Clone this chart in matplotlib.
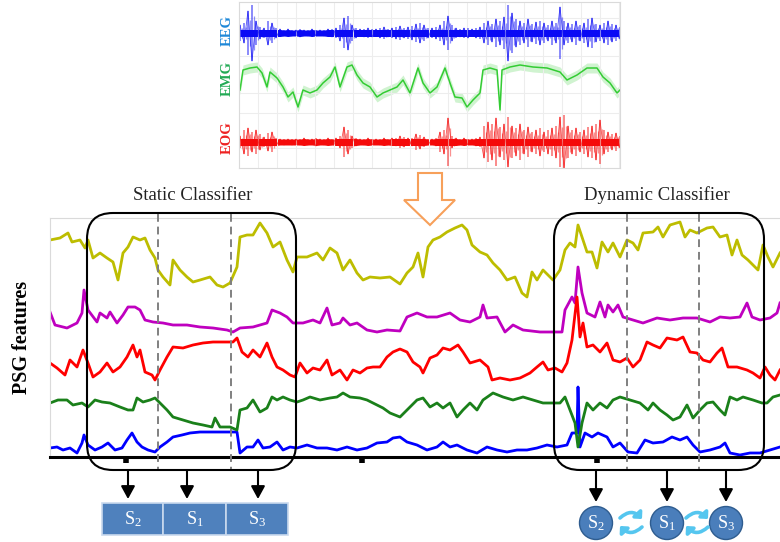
import numpy as np
import matplotlib
matplotlib.use('Agg')
import matplotlib.pyplot as plt
from matplotlib.patches import FancyBboxPatch, Rectangle, Circle, Polygon, FancyArrowPatch

plt.rcParams['font.family'] = ['Liberation Serif', 'DejaVu Serif']
plt.rcParams['mathtext.default'] = 'regular'

# ---------------- data: PSG feature curves (time, value) ----------------
yel_t = [50,60,68,72,80,85,88,93,100,107,113,118,123,128,133,140,145,150,155,158,163,170,173,180,187,193,200,210,217,223,230,237,240,247,253,260,267,273,280,287,293,297,307,317,323,330,337,343,350,357,363,370,380,390,400,407,413,418,423,428,433,440,447,455,462,467,472,480,487,493,500,507,515,522,527,532,537,543,550,553,560,565,570,575,578,582,587,592,597,602,608,613,620,627,633,638,643,653,658,663,670,680,685,690,697,707,713,720,727,732,737,742,748,753,758,763,768,773,780]
yel_v = [217,219,224,215,217,209,217,199,204,199,195,177,204,210,220,217,219,207,199,187,180,172,197,187,180,175,177,180,172,170,174,190,220,222,222,234,224,210,215,197,185,200,200,204,197,209,204,187,197,184,177,180,179,180,173,184,190,204,180,210,217,220,225,229,232,227,212,205,202,194,187,177,180,164,160,185,177,187,180,177,187,207,214,210,232,220,205,205,189,215,205,214,200,217,214,207,224,225,230,220,232,235,220,227,224,229,230,220,222,202,217,202,197,192,187,212,200,190,204]

mag_t = [50,55,67,77,82,84,88,97,100,107,110,117,123,128,135,140,145,153,163,173,187,200,213,227,233,240,253,267,272,280,287,293,303,313,320,327,332,340,343,350,357,367,377,387,400,407,417,427,437,450,460,470,480,483,487,497,505,513,523,540,553,562,565,572,575,578,582,587,595,600,605,608,613,618,623,633,643,657,670,683,697,710,720,730,740,747,752,760,770,777,780]
mag_v = [145,132,129,134,144,167,147,135,144,139,145,134,142,150,150,147,137,135,134,132,132,130,129,127,125,129,130,134,147,144,140,134,134,137,134,149,132,134,139,132,134,127,125,127,126,140,144,140,140,144,137,135,140,152,139,140,125,132,127,125,125,125,147,160,154,190,164,144,140,155,140,152,145,152,140,137,134,139,137,139,139,135,140,139,140,154,140,137,139,144,154]

red_t = [50,57,65,70,77,83,88,93,100,107,113,120,127,133,137,140,145,152,155,160,167,173,183,193,203,213,223,233,237,242,248,253,260,267,272,277,283,290,295,300,307,313,320,327,332,340,347,353,360,367,373,380,387,393,400,407,413,420,423,430,437,443,450,458,463,470,480,488,492,500,510,520,530,537,543,548,555,562,567,572,577,580,583,587,593,600,607,613,620,627,633,640,647,653,660,667,677,683,690,697,703,710,717,722,728,737,747,753,760,765,770,775,780]
red_v = [94,89,82,97,90,107,94,80,85,94,85,90,100,112,100,107,85,82,77,87,100,110,109,112,114,115,115,115,119,105,100,107,100,114,100,90,87,82,80,94,84,89,87,97,82,87,77,87,84,89,90,90,100,105,108,105,95,90,84,99,102,109,107,112,105,94,97,90,77,79,77,79,84,90,95,87,89,85,94,117,160,120,134,110,112,105,114,97,95,99,90,97,115,112,109,119,117,120,105,104,97,95,104,109,90,90,87,84,79,90,82,77,87]

grn_t = [50,58,67,73,82,88,95,102,110,120,128,133,137,143,150,155,160,167,173,183,193,203,212,215,220,230,237,240,247,253,260,267,272,277,283,290,297,303,310,320,330,337,343,350,360,367,373,383,390,400,407,417,423,430,437,443,450,457,463,470,477,483,493,503,513,523,533,543,553,560,565,570,575,578,582,587,593,600,607,613,620,630,640,648,653,660,667,673,680,687,693,700,707,713,720,725,730,737,743,753,762,767,773,780]
grn_v = [54,57,57,52,54,50,57,55,54,50,47,47,59,55,57,59,54,47,40,37,34,32,30,39,30,30,27,47,49,57,45,49,60,57,60,57,55,57,60,57,59,60,64,60,59,57,54,49,44,40,47,57,59,50,54,49,54,40,47,54,47,57,64,60,57,60,57,54,54,54,60,47,34,10,34,54,47,54,49,57,60,57,54,47,54,47,42,37,40,52,39,47,54,55,47,42,60,57,60,57,54,54,60,62]

blu_t = [50,57,63,70,77,82,84,88,95,102,108,115,122,127,132,137,142,148,155,160,167,173,182,190,200,210,220,230,237,240,247,253,258,263,270,277,283,290,297,307,317,327,337,347,357,367,377,387,393,400,407,417,427,437,443,450,457,467,477,487,497,507,517,527,537,547,557,567,572,577,578,580,585,592,598,607,613,620,628,637,645,653,663,672,680,687,693,700,710,720,725,730,740,750,760,770,780]
blu_v = [9,10,7,9,4,14,22,12,7,10,14,7,9,17,24,15,10,7,5,10,15,20,22,24,25,25,25,25,25,4,10,10,17,9,10,15,7,10,9,12,9,9,7,10,7,9,14,15,19,20,15,12,7,10,15,10,12,7,4,10,7,5,7,7,9,12,10,12,24,24,70,10,24,20,24,20,10,14,5,4,17,14,15,20,17,20,12,5,7,10,14,4,2,4,4,7,10]

epoch_marks = [126, 362, 597]

# ---------------- data: raw PSG signals (top panel) ----------------
sig_t0, sig_dt = 240, 4
eeg = [8,-10,22,-28,12,-6,5,-12,10,-5,
       4,-3,4,-3,3,-4,3,-3,4,-3,
       3,-3,4,-4,5,-8,15,-17,8,-5,
       4,-4,5,-4,4,-5,6,-4,5,-6,
       7,-5,6,-7,9,-10,8,-5,5,-6,
       8,-12,17,-8,5,-4,5,-5,4,-5,
       6,-10,12,-9,14,-12,16,-28,20,-14,
       12,-10,14,-9,11,-12,10,-8,12,-10,
       26,-12,10,-9,12,-8,10,-14,15,-9,
       8,-10,12,-9,8,-6]
eog = [6,-12,14,-10,12,-8,5,-9,10,-4,
       3,-3,3,-3,3,-3,4,-3,3,-4,
       3,-3,4,-3,4,-6,15,-12,6,-4,
       3,-3,4,-3,3,-3,4,-3,4,-4,
       6,-5,4,-4,8,-7,5,-3,3,-4,
       10,-12,24,-6,4,-3,4,-3,3,-4,
       5,-16,20,-18,24,-15,18,-25,16,-14,
       18,-12,15,-10,12,-14,10,-12,14,-16,
       25,-27,16,-12,14,-10,12,-15,16,-18,
       22,-12,10,-8,9,-6]
emg_t = [240,243,250,257,262,267,270,277,283,288,293,298,303,310,317,323,330,335,340,347,352,357,363,370,377,383,390,397,403,410,418,423,430,437,445,450,455,462,467,473,480,483,490,497,500,502,510,520,533,547,560,567,577,587,597,603,610,617,620]
emg_v = [78,98,100,101,95,81,96,90,81,71,76,61,78,75,78,85,91,101,81,101,103,93,85,81,71,75,78,81,88,75,100,85,75,81,100,85,71,70,61,68,75,98,100,98,58,98,101,103,101,100,96,88,93,100,100,91,85,75,78]

stage_static = ['S$_2$', 'S$_1$', 'S$_3$']
stage_dynamic = ['S$_2$', 'S$_1$', 'S$_3$']

# ---------------- figure ----------------
W, H = 780, 542
fig = plt.figure(figsize=(W / 100, H / 100), dpi=100)

def frac(x0, y0, x1, y1):
    return [x0 / W, 1 - y1 / H, (x1 - x0) / W, (y1 - y0) / H]

# top raw-signal panel
ta = fig.add_axes(frac(239, 2, 620, 168))
ta.set_xlim(239, 620)
ta.set_ylim(0, 166)
ta.set_xticks(np.arange(258, 620, 19))
ta.set_yticks([20, 55, 75, 112, 150])
ta.grid(True, color='#EDEDED', lw=0.8)
ta.tick_params(length=0, labelbottom=False, labelleft=False)
for s in ta.spines.values():
    s.set_color('#DADADA')
    s.set_linewidth(0.8)
tt = np.arange(len(eeg)) * sig_dt + sig_t0


def noisy(ax, center, vals, col):
    v = np.array(vals, dtype=float)
    a = np.abs(v)
    ax.vlines(tt, center - a, center + a, color=col, lw=1.1, alpha=0.6)
    ax.vlines(tt + 2, center - 0.6 * a, center + 0.6 * a, color=col, lw=0.9, alpha=0.45)
    ax.plot(tt, center + v, color=col, lw=0.6, alpha=0.7)
    core = np.minimum(a, 3.5)
    ax.fill_between(tt, center - core, center + core, color=col, lw=0)


noisy(ta, 135, eeg, '#0A0AF5')
noisy(ta, 26, eog, '#F50A0A')
ta.fill_between(emg_t, np.array(emg_v) - 5, np.array(emg_v) + 5, color='#44D044', alpha=0.25, lw=0)
ta.plot(emg_t, emg_v, color='#33CC33', lw=1.1)

# main PSG-feature panel
ma = fig.add_axes(frac(50, 218, 780, 457))
ma.set_xlim(50, 780)
ma.set_ylim(0, 239)
lw = 2.0
ma.plot(yel_t, yel_v, color='#BDBD00', lw=lw)
ma.plot(mag_t, mag_v, color='#BF00BF', lw=lw)
ma.plot(red_t, red_v, color='#FF0000', lw=lw)
ma.plot(blu_t, blu_v, color='#0000FF', lw=lw)
ma.plot(grn_t, grn_v, color='#1A801A', lw=lw)
ma.set_yticks([])
ma.set_xticks(epoch_marks)
ma.tick_params(axis='x', direction='out', length=4, width=4, color='black', labelbottom=False)
ma.spines['right'].set_visible(False)
for k in ('top', 'left'):
    ma.spines[k].set_color('#DADADA')
    ma.spines[k].set_linewidth(0.8)
ma.spines['bottom'].set_color('black')
ma.spines['bottom'].set_linewidth(2.2)

# overlay for annotations
ov = fig.add_axes([0, 0, 1, 1], zorder=5)
ov.set_xlim(0, W)
ov.set_ylim(H, 0)
ov.axis('off')
ov.patch.set_alpha(0)

# labels of the raw signals
ov.text(227, 31, 'EEG', rotation=90, ha='center', va='center', fontsize=10.5,
        fontweight='bold', color='#1E88D8')
ov.text(227, 78, 'EMG', rotation=90, ha='center', va='center', fontsize=10.5,
        fontweight='bold', color='#22AA55')
ov.text(227, 138, 'EOG', rotation=90, ha='center', va='center', fontsize=10.5,
        fontweight='bold', color='#EE2222')

# orange down arrow
ov.add_patch(Polygon([(418, 173), (442, 173), (442, 200), (455, 200), (430, 225),
                      (404, 200), (418, 200)], closed=True, facecolor='white',
                     edgecolor='#F7A05A', lw=1.5))

ov.text(22, 337, 'PSG features', rotation=90, ha='center', va='center',
        fontsize=14.5, fontweight='bold', color='black')
ov.text(193, 195, 'Static Classifier', ha='center', va='center', fontsize=13.5, color='#222222')
ov.text(657, 195, 'Dynamic Classifier', ha='center', va='center', fontsize=13.5, color='#222222')

# classifier windows
for x0, x1, dxs in [(87, 296, (158, 231)), (554, 764, (627, 699))]:
    ov.add_patch(FancyBboxPatch((x0, 213), x1 - x0, 257,
                                boxstyle='round,pad=0,rounding_size=26',
                                facecolor='none', edgecolor='black', lw=1.5))
    for xd in dxs:
        ov.plot([xd, xd], [214, 469], color='#808080', lw=1.4, ls=(0, (4, 2.5)))

arrow_kw = dict(arrowstyle='-|>,head_length=0.55,head_width=0.3', color='black', lw=1.5,
                mutation_scale=14, shrinkA=0, shrinkB=0)
# static outputs
for xa in (128, 187, 258):
    ov.add_patch(FancyArrowPatch((xa, 470), (xa, 499), **arrow_kw))
for (x0, x1), lab in zip([(102, 163), (163, 226), (226, 288)], stage_static):
    ov.add_patch(Rectangle((x0, 503), x1 - x0, 32, facecolor='#4F81BD',
                           edgecolor='#C9D9EE', lw=1.2))
    ov.text((x0 + x1) / 2, 519, lab, ha='center', va='center', fontsize=13, color='white')

# dynamic outputs
for xa, lab in zip((596, 667, 726), stage_dynamic):
    ov.add_patch(FancyArrowPatch((xa, 470), (xa, 502), **arrow_kw))
    ov.add_patch(Circle((xa, 523), 16.5, facecolor='#4A7EBB', edgecolor='#2E5C8F', lw=1.0))
    ov.text(xa, 523, lab, ha='center', va='center', fontsize=13, color='white')

cyc_kw = dict(arrowstyle='-|>,head_length=0.45,head_width=0.45', color='#55C6EF', lw=2.6,
              mutation_scale=7, shrinkA=0, shrinkB=0)
for xc in (631, 697):
    ov.add_patch(FancyArrowPatch((xc - 11, 518), (xc + 11, 519),
                                 connectionstyle='arc3,rad=-0.5', **cyc_kw))
    ov.add_patch(FancyArrowPatch((xc + 11, 527), (xc - 11, 526),
                                 connectionstyle='arc3,rad=-0.5', **cyc_kw))

fig.savefig('out.png', dpi=100)
